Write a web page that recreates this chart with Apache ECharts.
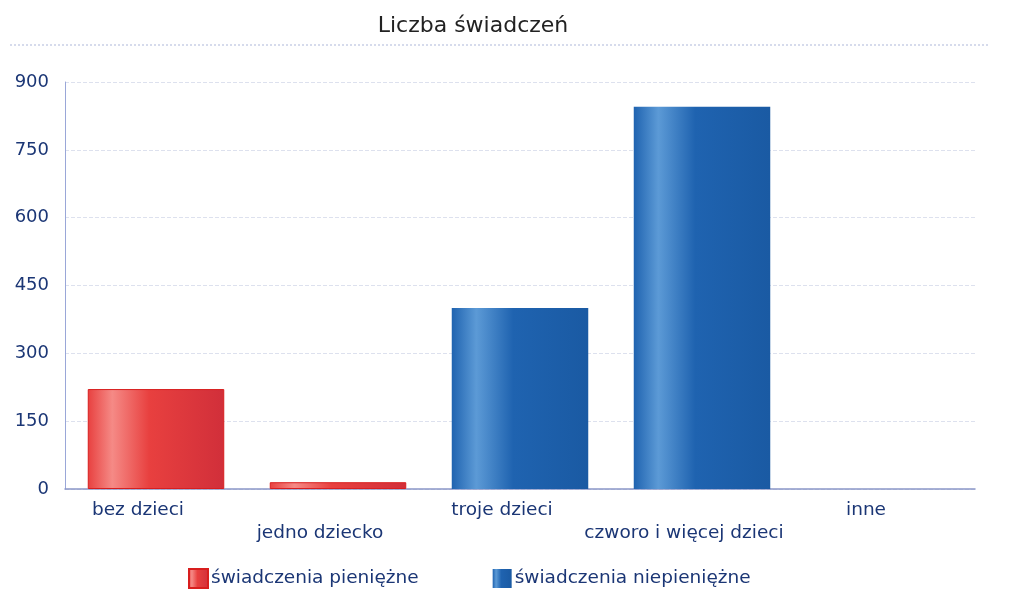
<!DOCTYPE html>
<html>
<head>
<meta charset="utf-8">
<script src="https://cdn.jsdelivr.net/npm/echarts@6/dist/echarts.min.js"></script>
<style>
  html, body { margin: 0; padding: 0; background: #fff; }
  #chart { width: 1018px; height: 589px; }
</style>
</head>
<body>
<div id="chart"></div>
<script>
// dane ('-' = brak słupka)
var kategorie = ['bez dzieci', 'jedno dziecko', 'troje dzieci', 'czworo i więcej dzieci', 'inne'];
var pieniezne = [221, 15, '-', '-', '-'];
var niepieniezne = ['-', '-', 400, 845, '-'];
var osY = [0, 150, 300, 450, 600, 750, 900];

var myChart = echarts.init(document.getElementById('chart'));

// walec: jasny pasek po lewej, ciemniej po prawej
function walec(c1, c2, c3) {
  return new echarts.graphic.LinearGradient(0, 0, 1, 0, [
    { offset: 0, color: c2 },
    { offset: 0.18, color: c1 },
    { offset: 0.45, color: c2 },
    { offset: 1, color: c3 }
  ]);
}

var fontTxt = 'DejaVu Sans';
var kolorTxt = '#1b3675';

var option = {
  backgroundColor: '#fff',
  animation: false,
  title: {
    text: 'Liczba świadczeń',
    left: 468,
    top: 10,
    textAlign: 'center',
    textStyle: { fontFamily: fontTxt, fontSize: 22, fontWeight: 'normal', color: '#222' }
  },
  graphic: [{
    type: 'line',
    shape: { x1: 10, y1: 45, x2: 990, y2: 45 },
    style: { stroke: '#c9cfe6', lineWidth: 1.5, lineDash: [2, 2] }
  }],
  legend: {
    top: 563,
    left: 183,
    itemGap: 74,
    itemWidth: 19,
    itemHeight: 19,
    icon: 'rect',
    textStyle: { fontFamily: fontTxt, fontSize: 18.5, color: kolorTxt, padding: [0, 0, 0, -2] },
    data: ['świadczenia pieniężne', 'świadczenia niepieniężne']
  },
  grid: { left: 65, right: 43, top: 82, bottom: 100 },
  xAxis: {
    type: 'category',
    data: kategorie,
    axisTick: { show: false },
    axisLine: { lineStyle: { color: '#8a97c8', width: 1.5 } },
    axisLabel: {
      interval: 0,
      fontFamily: fontTxt,
      fontSize: 18.5,
      color: kolorTxt,
      margin: 10,
      padding: [0, 36, 0, 0],
      formatter: function (v, i) { return i % 2 === 1 ? '\n' + v : v; },
      lineHeight: 23
    }
  },
  yAxis: {
    type: 'value',
    min: osY[0],
    max: osY[osY.length - 1],
    interval: 150,
    axisLine: { show: true, lineStyle: { color: '#9aa7d8', width: 1 } },
    axisTick: { show: false },
    splitLine: { lineStyle: { color: '#dde1ee', type: 'dashed' } },
    axisLabel: { fontFamily: fontTxt, fontSize: 18, color: kolorTxt, margin: 16 }
  },
  series: [
    {
      name: 'świadczenia pieniężne',
      type: 'bar',
      stack: 'razem',
      barWidth: '75%',
      data: pieniezne,
      itemStyle: {
        color: walec('#f58a86', '#e8403f', '#d12f3a'),
        borderColor: '#d81e1e',
        borderWidth: 1
      }
    },
    {
      name: 'świadczenia niepieniężne',
      type: 'bar',
      stack: 'razem',
      barWidth: '75%',
      data: niepieniezne,
      itemStyle: {
        color: walec('#5c9ad6', '#1f63b0', '#1a5aa3'),
        borderWidth: 0
      }
    }
  ]
};

myChart.setOption(option);
</script>
</body>
</html>
